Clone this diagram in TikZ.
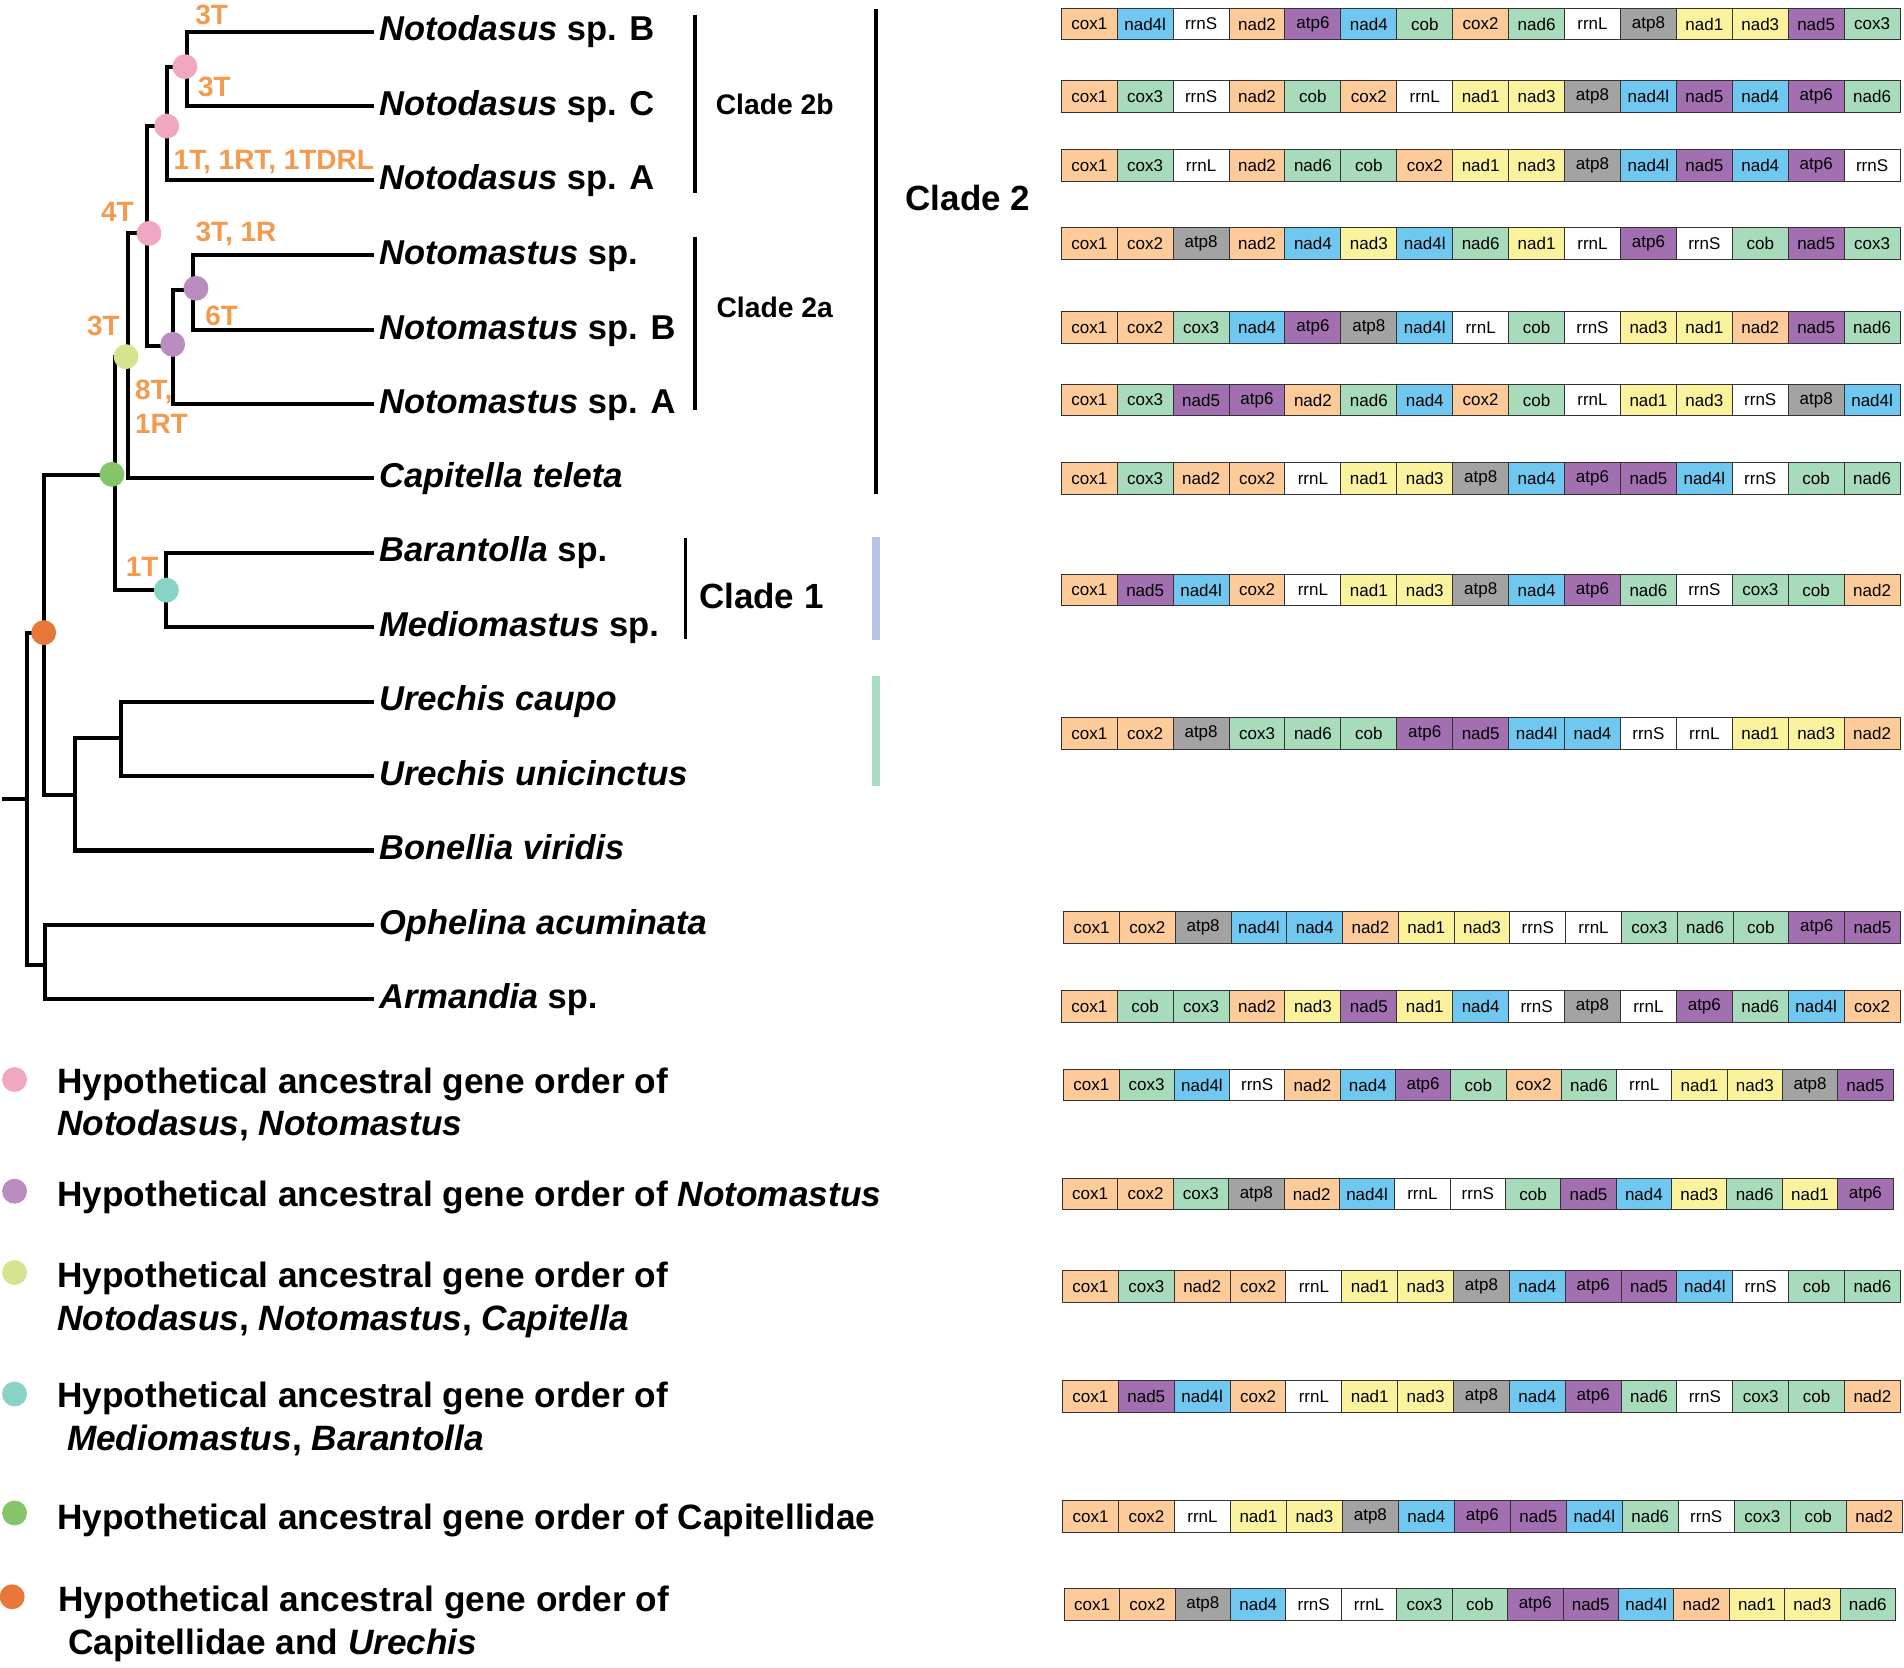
\documentclass[tikz,border=0pt]{standalone}
\usepackage{fontspec}
\setmainfont{Liberation Sans}
\definecolor{cPeach}{HTML}{FDCB9A}
\definecolor{cBlue}{HTML}{70C8F0}
\definecolor{cPurple}{HTML}{A270B0}
\definecolor{cGreen}{HTML}{A8DABC}
\definecolor{cGray}{HTML}{A3A3A3}
\definecolor{cYellow}{HTML}{FAF29C}
\definecolor{ancPink}{HTML}{F0A8C2}
\definecolor{ancPurple}{HTML}{BA8CC0}
\definecolor{ancLime}{HTML}{D5E48E}
\definecolor{ancGreen}{HTML}{86C46A}
\definecolor{ancTeal}{HTML}{88D2C6}
\definecolor{ancOrange}{HTML}{E8773A}
\definecolor{evOrange}{HTML}{F39A4E}
\definecolor{barBlue}{HTML}{B8C4E4}
\definecolor{barGreen}{HTML}{A8DCC4}
\tikzset{
  branch/.style={line width=3.4pt,black},
  cladebar/.style={line width=3pt,black},
  taxon/.style={anchor=west,inner xsep=4pt,inner ysep=0pt,text height=21pt,text depth=6pt,
    font=\fontsize{28.4}{34}\selectfont\bfseries\itshape},
  anc/.style={circle,minimum size=20.5pt,inner sep=0pt},
  event/.style={inner sep=0pt,text=evOrange,font=\fontsize{23}{28}\selectfont\bfseries},
  cladelbl/.style={inner sep=0pt,font=\fontsize{23.3}{28}\selectfont\bfseries},
  cladebig/.style={inner sep=0pt,font=\fontsize{28.8}{34}\selectfont\bfseries},
  legdot/.style={circle,minimum size=20.5pt,inner sep=0pt},
  legtext/.style={inner sep=0pt,align=left,font=\fontsize{29}{35}\selectfont\bfseries},
  genebox/.style={draw=black!80,line width=0.8pt,minimum height=26pt,inner sep=0pt,
    font=\fontsize{14}{14}\selectfont},
  gcox1/.style={fill=cPeach}, gcox2/.style={fill=cPeach}, gnad2/.style={fill=cPeach},
  gcox3/.style={fill=cGreen}, gcob/.style={fill=cGreen}, gnad6/.style={fill=cGreen},
  gnad4/.style={fill=cBlue}, gnad4l/.style={fill=cBlue},
  gatp6/.style={fill=cPurple}, gnad5/.style={fill=cPurple},
  gatp8/.style={fill=cGray},
  gnad1/.style={fill=cYellow}, gnad3/.style={fill=cYellow},
  grrnS/.style={fill=white}, grrnL/.style={fill=white},
}
% #1 row name, #2 y, #3 left x, #4 box width, #5 genes
\newcommand{\generow}[5]{%
  \foreach \g [count=\i] in {#5}{
    \node[genebox,minimum width=#4pt,g\g] (#1-\i) at ({#3+#4*(\i-0.5)},#2) {\g};
  }}
\begin{document}
\begin{tikzpicture}[x=1pt,y=-1pt,line join=miter]
\useasboundingbox (0,0) rectangle (1568,1373);
%% taxa
\node[taxon] (tx0) at (308,26) {Notodasus {\upshape sp. B}};
\node[taxon] (tx1) at (308,87.3) {Notodasus {\upshape sp. C}};
\node[taxon] (tx2) at (308,148.2) {Notodasus {\upshape sp. A}};
\node[taxon] (tx3) at (308,210) {Notomastus {\upshape sp.}};
\node[taxon] (tx4) at (308,271.8) {Notomastus {\upshape sp. B}};
\node[taxon] (tx5) at (308,332.7) {Notomastus {\upshape sp. A}};
\node[taxon] (tx6) at (308,393.9) {Capitella teleta};
\node[taxon] (tx7) at (308,455.2) {Barantolla {\upshape sp.}};
\node[taxon] (tx8) at (308,516.5) {Mediomastus {\upshape sp.}};
\node[taxon] (tx9) at (308,577.8) {Urechis caupo};
\node[taxon] (tx10) at (308,639) {Urechis unicinctus};
\node[taxon] (tx11) at (308,700.4) {Bonellia viridis};
\node[taxon] (tx12) at (308,761.7) {Ophelina acuminata};
\node[taxon] (tx13) at (308,823) {Armandia {\upshape sp.}};
%% joints
\coordinate (jBC) at (153.7,54.9);
\coordinate (jNd) at (137.3,103.8);
\coordinate (jNdNm) at (120.8,192.2);
\coordinate (jNmSB) at (158.7,238.5);
\coordinate (jNm) at (142.7,285);
\coordinate (jNNC) at (105.7,293.7);
\coordinate (jCap) at (94.7,391);
\coordinate (jMB) at (137,486);
\coordinate (jCU) at (36.5,521);
\coordinate (jUB) at (61.5,655);
\coordinate (jUr) at (100,608);
\coordinate (jOA) at (37,795);
\coordinate (jRoot) at (22.5,658);
\coordinate (rootStub) at (2,658);
%% branches
\draw[branch] (jBC) |- (tx0.west);
\draw[branch] (jBC) |- (tx1.west);
\draw[branch] (jNd) |- (jBC);
\draw[branch] (jNd) |- (tx2.west);
\draw[branch] (jNdNm) |- (jNd);
\draw[branch] (jNdNm) |- (jNm);
\draw[branch] (jNmSB) |- (tx3.west);
\draw[branch] (jNmSB) |- (tx4.west);
\draw[branch] (jNm) |- (jNmSB);
\draw[branch] (jNm) |- (tx5.west);
\draw[branch] (jNNC) |- (jNdNm);
\draw[branch] (jNNC) |- (tx6.west);
\draw[branch] (jCap) |- (jNNC);
\draw[branch] (jCap) |- (jMB);
\draw[branch] (jMB) |- (tx7.west);
\draw[branch] (jMB) |- (tx8.west);
\draw[branch] (jCU) |- (jCap);
\draw[branch] (jCU) |- (jUB);
\draw[branch] (jUB) |- (jUr);
\draw[branch] (jUB) |- (tx11.west);
\draw[branch] (jUr) |- (tx9.west);
\draw[branch] (jUr) |- (tx10.west);
\draw[branch] (jRoot) |- (jCU);
\draw[branch] (jRoot) |- (jOA);
\draw[branch] (jOA) |- (tx12.west);
\draw[branch] (jOA) |- (tx13.west);
\draw[branch] (rootStub) -- (jRoot);
%% ancestral nodes
\node[anc,fill=ancPink] (aBC) at (152.3,54.9) {};
\node[anc,fill=ancPink] (aNd) at (137.3,103.8) {};
\node[anc,fill=ancPink] (aNdNm) at (122.7,192.2) {};
\node[anc,fill=ancPurple] (aNmSB) at (161.4,237.4) {};
\node[anc,fill=ancPurple] (aNm) at (142.2,283.6) {};
\node[anc,fill=ancLime] (aNNC) at (103.8,293.7) {};
\node[anc,fill=ancGreen] (aCap) at (92.2,390.6) {};
\node[anc,fill=ancTeal] (aMB) at (137,486) {};
\node[anc,fill=ancOrange] (aCU) at (36,521) {};
%% rearrangement events
\node[event] (ev1) at (174.3,12.4) {3T};
\node[event] (ev2) at (176.5,71.9) {3T};
\node[event] (ev3) at (225.5,133.1) {1T, 1RT, 1TDRL};
\node[event] (ev4) at (96.6,174.3) {4T};
\node[event] (ev5) at (194.3,193) {3T, 1R};
\node[event] (ev6) at (182.5,260.2) {6T};
\node[event] (ev7) at (85.1,268.5) {3T};
\node[event,anchor=west,align=left] (ev8) at (111,335) {8T,\\1RT};
\node[event] (ev9) at (117,467) {1T};
%% clade bars
\coordinate (b2bT) at (572.3,12); \coordinate (b2bB) at (572.3,159);
\coordinate (b2aT) at (572.3,195); \coordinate (b2aB) at (572.3,338);
\coordinate (b2T) at (721.5,7.5); \coordinate (b2B) at (721.5,406.5);
\coordinate (b1T) at (564.5,443); \coordinate (b1B) at (564.5,526);
\coordinate (bbT) at (721.5,442); \coordinate (bbB) at (721.5,527);
\coordinate (bgT) at (721.5,557); \coordinate (bgB) at (721.5,647);
\draw[cladebar] (b2bT) -- (b2bB);
\draw[cladebar] (b2aT) -- (b2aB);
\draw[cladebar] (b2T) -- (b2B);
\draw[cladebar] (b1T) -- (b1B);
\draw[line width=6pt,barBlue] (bbT) -- (bbB);
\draw[line width=6pt,barGreen] (bgT) -- (bgB);
\node[cladelbl] (lc2b) at (638,86) {Clade 2b};
\node[cladelbl] (lc2a) at (638,253) {Clade 2a};
\node[cladebig] (lc2) at (797,163) {Clade 2};
\node[cladebig] (lc1) at (627,491) {Clade 1};
%% gene orders
\generow{r1}{19.8}{874}{46.05}{cox1,nad4l,rrnS,nad2,atp6,nad4,cob,cox2,nad6,rrnL,atp8,nad1,nad3,nad5,cox3}
\generow{r2}{79.6}{874}{46.05}{cox1,cox3,rrnS,nad2,cob,cox2,rrnL,nad1,nad3,atp8,nad4l,nad5,nad4,atp6,nad6}
\generow{r3}{136.4}{874}{46.05}{cox1,cox3,rrnL,nad2,nad6,cob,cox2,nad1,nad3,atp8,nad4l,nad5,nad4,atp6,rrnS}
\generow{r4}{200.4}{874}{46.05}{cox1,cox2,atp8,nad2,nad4,nad3,nad4l,nad6,nad1,rrnL,atp6,rrnS,cob,nad5,cox3}
\generow{r5}{269.6}{874}{46.05}{cox1,cox2,cox3,nad4,atp6,atp8,nad4l,rrnL,cob,rrnS,nad3,nad1,nad2,nad5,nad6}
\generow{r6}{329.4}{874}{46.05}{cox1,cox3,nad5,atp6,nad2,nad6,nad4,cox2,cob,rrnL,nad1,nad3,rrnS,atp8,nad4l}
\generow{r7}{393.9}{874}{46.05}{cox1,cox3,nad2,cox2,rrnL,nad1,nad3,atp8,nad4,atp6,nad5,nad4l,rrnS,cob,nad6}
\generow{r8}{485.9}{874}{46.05}{cox1,nad5,nad4l,cox2,rrnL,nad1,nad3,atp8,nad4,atp6,nad6,rrnS,cox3,cob,nad2}
\generow{r9}{603.9}{874}{46.05}{cox1,cox2,atp8,cox3,nad6,cob,atp6,nad5,nad4l,nad4,rrnS,rrnL,nad1,nad3,nad2}
\generow{r10}{763.7}{876}{45.93}{cox1,cox2,atp8,nad4l,nad4,nad2,nad1,nad3,rrnS,rrnL,cox3,nad6,cob,atp6,nad5}
\generow{r11}{829}{874}{46.05}{cox1,cob,cox3,nad2,nad3,nad5,nad1,nad4,rrnS,atp8,rrnL,atp6,nad6,nad4l,cox2}
\generow{r12}{893.5}{876}{45.53}{cox1,cox3,nad4l,rrnS,nad2,nad4,atp6,cob,cox2,nad6,rrnL,nad1,nad3,atp8,nad5}
\generow{r13}{983.3}{875}{45.6}{cox1,cox2,cox3,atp8,nad2,nad4l,rrnL,rrnS,cob,nad5,nad4,nad3,nad6,nad1,atp6}
\generow{r14}{1059.6}{875}{46}{cox1,cox3,nad2,cox2,rrnL,nad1,nad3,atp8,nad4,atp6,nad5,nad4l,rrnS,cob,nad6}
\generow{r15}{1150.2}{875}{46}{cox1,nad5,nad4l,cox2,rrnL,nad1,nad3,atp8,nad4,atp6,nad6,rrnS,cox3,cob,nad2}
\generow{r16}{1249}{875}{46.1}{cox1,cox2,rrnL,nad1,nad3,atp8,nad4,atp6,nad5,nad4l,nad6,rrnS,cox3,cob,nad2}
\generow{r17}{1321.2}{876.5}{45.63}{cox1,cox2,atp8,nad4,rrnS,rrnL,cox3,cob,atp6,nad5,nad4l,nad2,nad1,nad3,nad6}
%% legend
\node[legdot,fill=ancPink] (d1) at (12,889) {};
\node[legdot,fill=ancPurple] (d2) at (12,981) {};
\node[legdot,fill=ancLime] (d3) at (12,1048) {};
\node[legdot,fill=ancTeal] (d4) at (12,1148) {};
\node[legdot,fill=ancGreen] (d5) at (12,1246) {};
\node[legdot,fill=ancOrange] (d6) at (10,1315) {};
\node[legtext,anchor=north west] (l1) at (47,879.2) {Hypothetical ancestral gene order of\\\textit{Notodasus}, \textit{Notomastus}};
\node[legtext,anchor=base west] (l2) at (47,993.4) {Hypothetical ancestral gene order of \textit{Notomastus}};
\node[legtext,anchor=north west] (l3) at (47,1039.2) {Hypothetical ancestral gene order of\\\textit{Notodasus}, \textit{Notomastus}, \textit{Capitella}};
\node[legtext,anchor=north west] (l4) at (47,1138.2) {Hypothetical ancestral gene order of\\\hspace*{8pt}\textit{Mediomastus}, \textit{Barantolla}};
\node[legtext,anchor=base west] (l5) at (47,1259.4) {Hypothetical ancestral gene order of Capitellidae};
\node[legtext,anchor=north west] (l6) at (48,1306.2) {Hypothetical ancestral gene order of\\\hspace*{8pt}Capitellidae and \textit{Urechis}};
\end{tikzpicture}
\end{document}
